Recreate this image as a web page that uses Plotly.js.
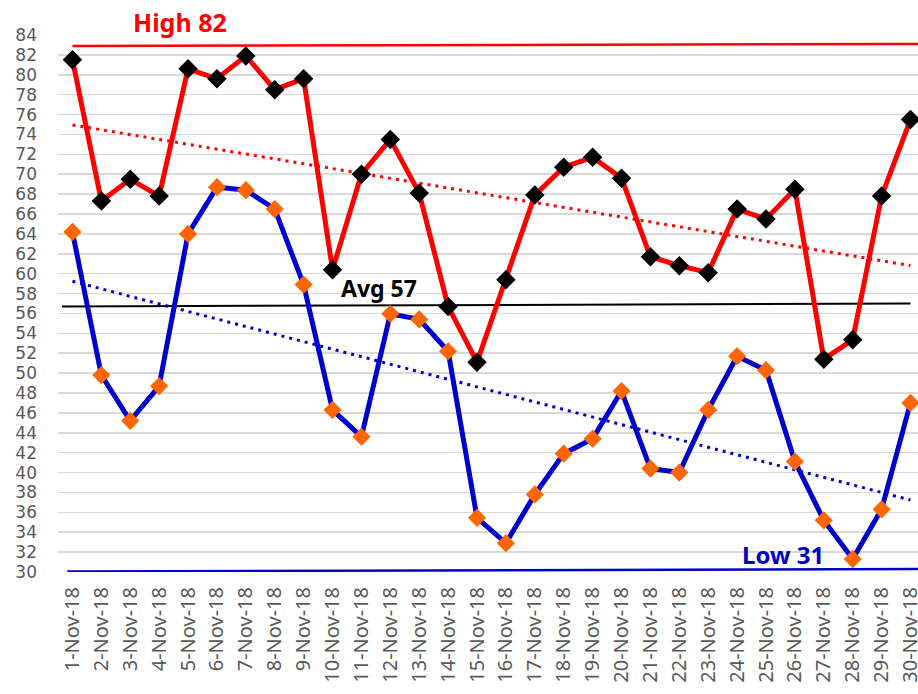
<!DOCTYPE html>
<html>
<head>
<meta charset="utf-8">
<script src="https://cdn.plot.ly/plotly-3.0.1.min.js"></script>
<style>html,body{margin:0;padding:0;background:#fff;}#chart{width:918px;height:694px;}</style>
</head>
<body>
<div id="chart"></div>
<script>
// Categories
const days = ["1-Nov-18","2-Nov-18","3-Nov-18","4-Nov-18","5-Nov-18","6-Nov-18","7-Nov-18","8-Nov-18","9-Nov-18","10-Nov-18",
  "11-Nov-18","12-Nov-18","13-Nov-18","14-Nov-18","15-Nov-18","16-Nov-18","17-Nov-18","18-Nov-18","19-Nov-18","20-Nov-18",
  "21-Nov-18","22-Nov-18","23-Nov-18","24-Nov-18","25-Nov-18","26-Nov-18","27-Nov-18","28-Nov-18","29-Nov-18","30-Nov-18"];
// Daily highs and lows
const highs = [81.5,67.3,69.5,67.8,80.6,79.6,81.9,78.5,79.6,60.4,70.0,73.5,68.1,56.7,51.1,59.4,67.9,70.7,71.7,69.6,61.7,60.8,60.1,66.5,65.5,68.5,51.4,53.35,67.8,75.5];
const lows  = [64.2,49.8,45.2,48.7,64.0,68.7,68.4,66.5,58.9,46.3,43.6,55.96,55.4,52.2,35.45,32.9,37.8,41.9,43.4,48.2,40.4,40.0,46.3,51.7,50.3,41.1,35.2,31.3,36.3,47.0];
// Reference lines (values at start, end)
const highRef = [82.9, 83.1];
const avgRef  = [56.7, 57.0];
const lowRef  = [30.05, 30.3];
const yTicks = [30,32,34,36,38,40,42,44,46,48,50,52,54,56,58,60,62,64,66,68,70,72,74,76,78,80,82,84];

const idx = days.map((d,i)=>i);
function trend(vals){
  const n = vals.length;
  const mx = (n-1)/2;
  const my = vals.reduce((a,b)=>a+b,0)/n;
  let sxy=0, sxx=0;
  vals.forEach((v,i)=>{sxy+=(i-mx)*(v-my); sxx+=(i-mx)*(i-mx);});
  const b = sxy/sxx, a = my - b*mx;
  return [a, a + b*(n-1)];
}
const hT = trend(highs), lT = trend(lows);
const last = days.length-1;
const FONT = 'Noto Sans, Arial, sans-serif';

const traces = [
  {x:[-0.36,last], y:avgRef, mode:'lines', line:{color:'#000000', width:2}, hoverinfo:'skip'},
  {x:[-0.18,last+0.4], y:lowRef, mode:'lines', line:{color:'#0000cc', width:2.5}, hoverinfo:'skip'},
  {x:[0,last+0.4], y:highRef, mode:'lines', line:{color:'#ff0000', width:2.5}, hoverinfo:'skip'},
  {x:[0,last], y:hT, mode:'lines', line:{color:'#ff0000', width:3, dash:'3px,5px'}, hoverinfo:'skip'},
  {x:[0,last], y:lT, mode:'lines', line:{color:'#0000cc', width:3, dash:'3px,5px'}, hoverinfo:'skip'},
  {x:idx, y:lows, mode:'lines+markers', line:{color:'#0000cc', width:5},
   marker:{symbol:'diamond', size:14, color:'#ff6600'}},
  {x:idx, y:highs, mode:'lines+markers', line:{color:'#ff0000', width:5},
   marker:{symbol:'diamond', size:15, color:'#000000'}}
];

const layout = {
  width:918, height:694,
  margin:{l:58, r:0, t:35, b:121.5},
  paper_bgcolor:'#ffffff', plot_bgcolor:'#ffffff',
  showlegend:false,
  font:{family:FONT, color:'#595959'},
  xaxis:{
    range:[-0.5, 29.26], tickmode:'array', tickvals:idx, ticktext:days,
    tickangle:-90, tickfont:{size:20, color:'#595959', family:FONT},
    showgrid:false, zeroline:false, showline:false, ticks:'', ticklabelstandoff:10,
    ticklabeloverflow:'allow'
  },
  yaxis:{
    range:[30,84], tickmode:'array', tickvals:yTicks, ticktext:yTicks.map(String),
    tickfont:{size:17, color:'#595959', family:'DejaVu Sans, Noto Sans, sans-serif'},
    showgrid:true, gridcolor:'#d9d9d9', gridwidth:1.5, zeroline:false, showline:false, ticks:'',
    ticklabelstandoff:20
  },
  annotations:[
    {x:0.142, y:1.024, xref:'paper', yref:'paper', yanchor:'middle', xanchor:'center',
     text:'<b>High 82</b>', showarrow:false,
     font:{size:25, color:'#ff0000', family:FONT}},
    {x:10.6, y:58.6, xref:'x', yref:'y', text:'<b>Avg 57</b>', showarrow:false,
     font:{size:23, color:'#000000', family:FONT}},
    {x:24.6, y:31.8, xref:'x', yref:'y', text:'<b>Low 31</b>', showarrow:false,
     font:{size:24, color:'#0000cc', family:FONT}}
  ]
};

Plotly.newPlot('chart', traces, layout, {displayModeBar:false, staticPlot:true});
</script>
</body>
</html>
